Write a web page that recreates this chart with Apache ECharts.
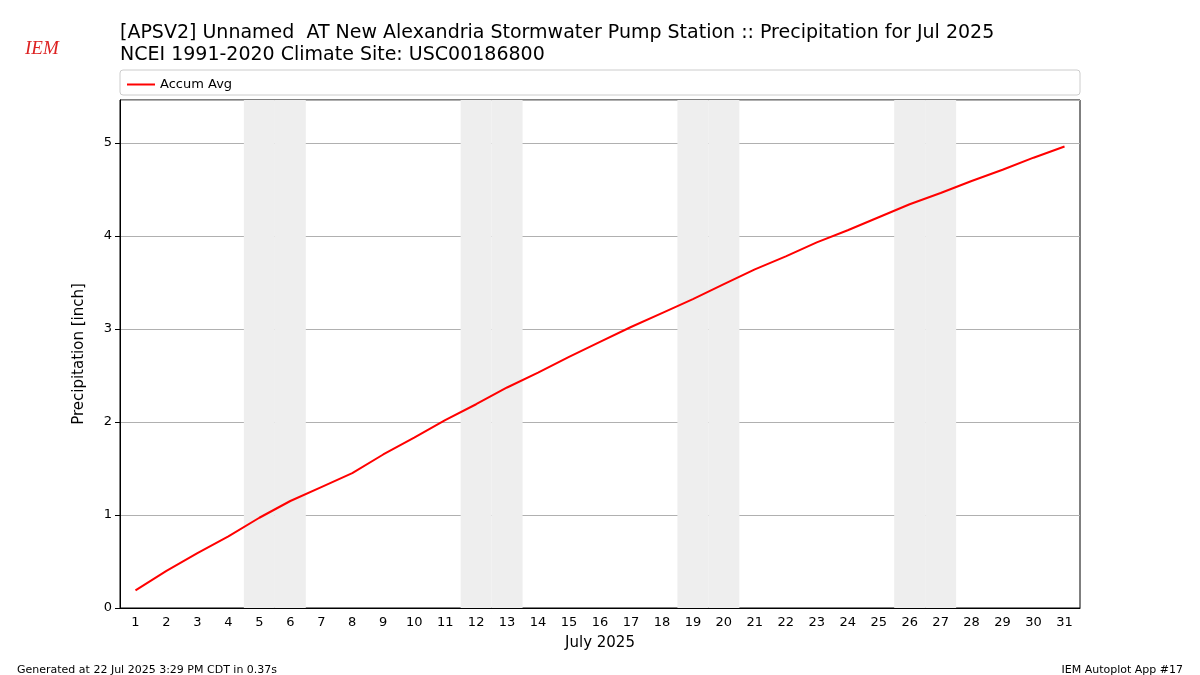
<!DOCTYPE html><html><head><meta charset="utf-8"><script src="https://cdn.jsdelivr.net/npm/echarts@6/dist/echarts.min.js"></script></head><body style="margin:0"><div id="c" style="width:1200px;height:675px"></div><script>
const days=[];for(let i=1;i<=31;i++)days.push(String(i));
const accumAvg=[0.19,0.40,0.59,0.77,0.97,1.15,1.30,1.45,1.65,1.83,2.02,2.19,2.37,2.53,2.70,2.86,3.02,3.17,3.32,3.48,3.64,3.78,3.93,4.06,4.20,4.34,4.46,4.59,4.71,4.84,4.96];
const weekendDays=['5','6','12','13','19','20','26','27'];
const YMAX=5.46;
const shade=days.map(d=>weekendDays.includes(d)?YMAX:null);
const ch=echarts.init(document.getElementById('c'));
const F='DejaVu Sans';
ch.setOption({animation:false,textStyle:{fontFamily:F},
title:[{text:'[APSV2] Unnamed  AT New Alexandria Stormwater Pump Station :: Precipitation for Jul 2025\nNCEI 1991-2020 Climate Site: USC00186800',left:115,top:17,textStyle:{fontSize:19,fontWeight:'normal',color:'#000',lineHeight:22,fontFamily:F}},
{text:'Generated at 22 Jul 2025 3:29 PM CDT in 0.37s',left:12,top:660,textStyle:{fontSize:11,fontWeight:'normal',color:'#000',fontFamily:F}},
{text:'IEM Autoplot App #17',right:12,top:660,textStyle:{fontSize:11,fontWeight:'normal',color:'#000',fontFamily:F}},
{text:'IEM',left:20,top:34,textStyle:{fontSize:19,fontStyle:'italic',fontFamily:'Liberation Serif',fontWeight:'normal',color:'#d22'}}],
graphic:[{type:'rect',shape:{x:120,y:70,width:960,height:25,r:3},style:{fill:'#fff',stroke:'#ccc'}}],
legend:{left:122,top:73,itemWidth:28,itemHeight:2,icon:'rect',data:['Accum Avg'],textStyle:{fontSize:13,color:'#000'}},
grid:{left:120,right:120,top:100,bottom:67,show:true,borderColor:'#000',borderWidth:1},
xAxis:{type:'category',data:days,name:'July 2025',nameLocation:'middle',nameGap:28,nameTextStyle:{fontSize:15,color:'#000'},axisLine:{lineStyle:{color:'#000'}},axisTick:{alignWithLabel:true,lineStyle:{color:'#000'}},axisLabel:{fontSize:13,color:'#000'}},
yAxis:{type:'value',min:0,max:YMAX,interval:1,name:'Precipitation [inch]',nameLocation:'middle',nameGap:33,nameTextStyle:{fontSize:15,color:'#000'},axisLine:{show:true,lineStyle:{color:'#000'}},axisTick:{show:true,lineStyle:{color:'#000'}},axisLabel:{fontSize:13,color:'#000',showMaxLabel:false},splitLine:{lineStyle:{color:'#b0b0b0'}}},
series:[{type:'bar',data:shade,barWidth:'100%',itemStyle:{color:'#eeeeee'},z:1,silent:true},
{name:'Accum Avg',type:'line',data:accumAvg,showSymbol:false,lineStyle:{color:'#ff0000',width:2},itemStyle:{color:'#ff0000'},z:3}]});
</script></body></html>
